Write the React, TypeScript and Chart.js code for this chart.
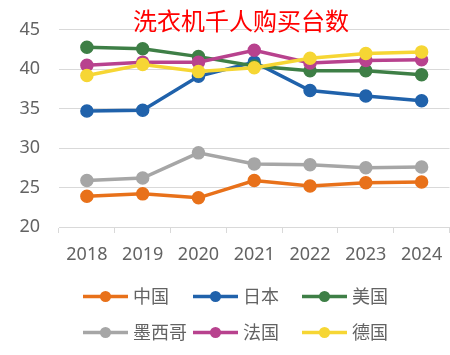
import React, { useEffect, useRef } from "react";
import { Chart, registerables } from "chart.js";

Chart.register(...registerables);

const TITLE = "洗衣机千人购买台数";
const YEARS = ["2018", "2019", "2020", "2021", "2022", "2023", "2024"];
const SERIES_NAMES = ["中国", "日本", "美国", "墨西哥", "法国", "德国"];
const CHINA = [23.9, 24.2, 23.7, 25.9, 25.2, 25.6, 25.7];
const JAPAN = [34.7, 34.8, 39.1, 40.9, 37.3, 36.6, 36.0];
const USA = [42.8, 42.6, 41.6, 40.4, 39.8, 39.8, 39.3];
const MEXICO = [25.9, 26.2, 29.4, 28.0, 27.9, 27.5, 27.6];
const FRANCE = [40.5, 40.9, 40.9, 42.4, 40.8, 41.1, 41.2];
const GERMANY = [39.2, 40.6, 39.7, 40.2, 41.4, 42.0, 42.2];
const SERIES_VALUES = [CHINA, JAPAN, USA, MEXICO, FRANCE, GERMANY];
const COLORS = ["#E8711A", "#2062AB", "#3E7F46", "#A6A6A6", "#B8428E", "#F6D634"];
const Y_MIN = 20;
const Y_MAX = 45;
const Y_STEP = 5;

const FONT = '"Noto Sans", "Noto Sans CJK SC", sans-serif';
const TEXT_COLOR = "#636363";
const GRID_COLOR = "#D9D9D9";

const titlePlugin = {
  id: "overlayTitle",
  afterDraw(chart: any) {
    const ctx = chart.ctx;
    ctx.save();
    ctx.font = `24px ${FONT}`;
    ctx.fillStyle = "#FF0000";
    ctx.textAlign = "center";
    ctx.textBaseline = "middle";
    ctx.fillText(TITLE, 241, 23);
    ctx.restore();
  },
};

const legendPlugin = {
  id: "lineLegend",
  afterDraw(chart: any) {
    const ctx = chart.ctx;
    const colX = [83, 193, 302];
    const rowY = [296.5, 332.5];
    ctx.save();
    ctx.font = `18px ${FONT}`;
    ctx.textBaseline = "middle";
    ctx.textAlign = "left";
    SERIES_NAMES.forEach((name, i) => {
      const x = colX[i % 3];
      const y = rowY[Math.floor(i / 3)];
      ctx.strokeStyle = COLORS[i];
      ctx.lineWidth = 3.5;
      ctx.beginPath();
      ctx.moveTo(x, y);
      ctx.lineTo(x + 45, y);
      ctx.stroke();
      ctx.fillStyle = COLORS[i];
      ctx.beginPath();
      ctx.arc(x + 22.5, y, 5.5, 0, Math.PI * 2);
      ctx.fill();
      ctx.fillStyle = TEXT_COLOR;
      ctx.fillText(name, x + 50, y + 1);
    });
    ctx.restore();
  },
};

export default function App() {
  const ref = useRef<HTMLCanvasElement | null>(null);
  useEffect(() => {
    if (!ref.current) return;
    const chart = new Chart(ref.current, {
      type: "line",
      data: {
        labels: YEARS,
        datasets: SERIES_NAMES.map((name, i) => ({
          label: name,
          data: SERIES_VALUES[i],
          borderColor: COLORS[i],
          backgroundColor: COLORS[i],
          pointBackgroundColor: COLORS[i],
          pointBorderColor: COLORS[i],
          borderWidth: 3.5,
          pointRadius: 6,
          pointBorderWidth: 1.5,
          tension: 0,
          order: SERIES_NAMES.length - i,
        })),
      },
      options: {
        responsive: false,
        animation: false,
        devicePixelRatio: 1,
        layout: { padding: { top: 29, left: 0, right: 0, bottom: 88 } },
        plugins: {
          legend: { display: false },
          title: { display: false },
          tooltip: { enabled: false },
        },
        scales: {
          x: {
            offset: true,
            grid: {
              display: true,
              offset: true,
              drawOnChartArea: false,
              drawTicks: true,
              tickLength: 6,
              color: GRID_COLOR,
            },
            border: { display: true, color: GRID_COLOR, width: 1 },
            ticks: {
              color: TEXT_COLOR,
              font: { family: FONT, size: 18 },
              padding: 11,
              maxRotation: 0,
            },
            afterFit(scale: any) {
              scale.height = 40;
            },
          },
          y: {
            min: Y_MIN,
            max: Y_MAX,
            ticks: {
              stepSize: Y_STEP,
              color: TEXT_COLOR,
              font: { family: FONT, size: 18 },
              padding: 19,
            },
            grid: { color: GRID_COLOR, drawTicks: false, lineWidth: 1 },
            border: { display: false },
            afterFit(scale: any) {
              scale.width = 59;
            },
          },
        },
      },
      plugins: [titlePlugin, legendPlugin],
    });
    return () => chart.destroy();
  }, []);
  return (
    <div
      style={{
        position: "fixed",
        left: 0,
        top: 0,
        width: 450,
        height: 355,
        overflow: "hidden",
        background: "#fff",
      }}
    >
      <canvas ref={ref} width={457} height={355} style={{ width: 457, height: 355, display: "block" }} />
    </div>
  );
}
